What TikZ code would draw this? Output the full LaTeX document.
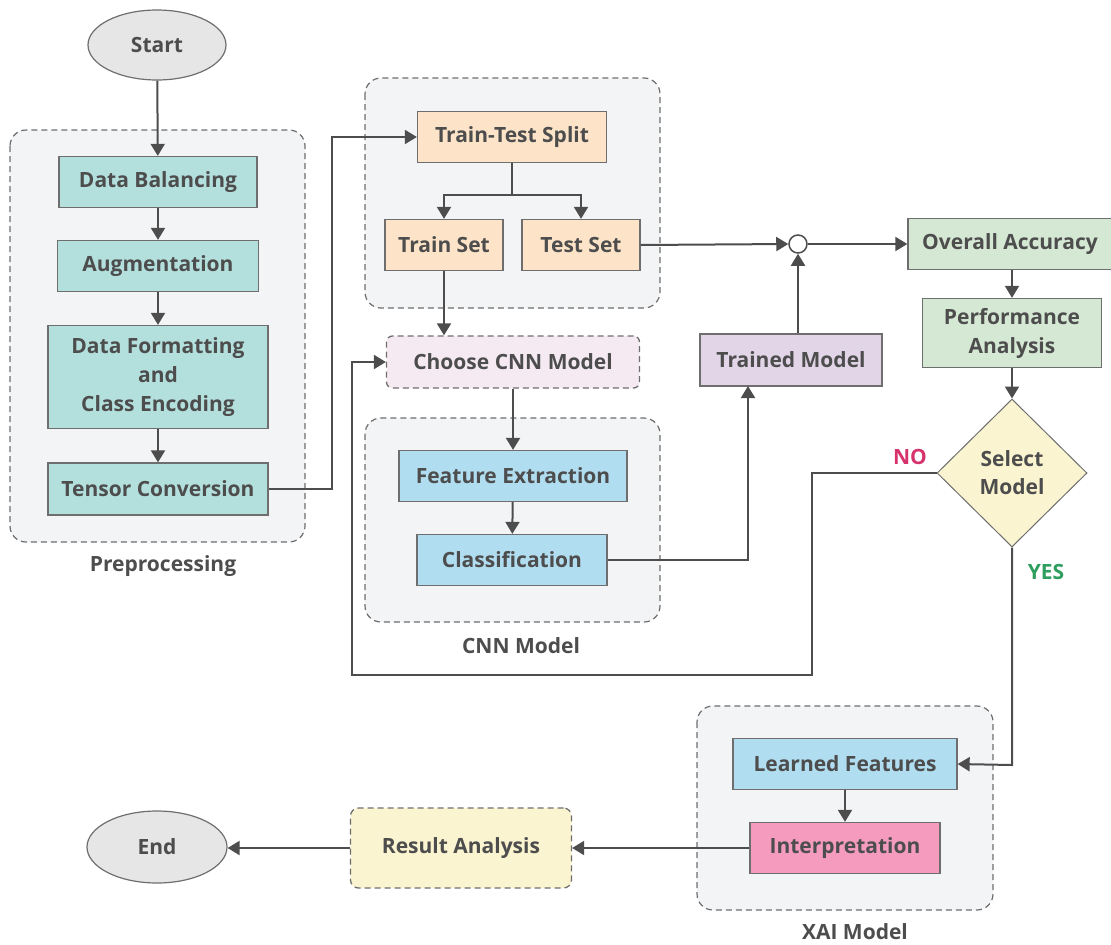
\documentclass[tikz,border=0pt]{standalone}
\usepackage{fontspec}
\setmainfont{Open Sans}
\usetikzlibrary{shapes.geometric,arrows.meta}

\definecolor{ink}{HTML}{4D4D4D}
\definecolor{edge}{HTML}{6E6E6E}
\definecolor{grpfill}{HTML}{F3F4F6}
\definecolor{teal}{HTML}{B3E0DD}
\definecolor{peach}{HTML}{FDE4C8}
\definecolor{skyb}{HTML}{B1DDF0}
\definecolor{mint}{HTML}{D5E8D4}
\definecolor{lilac}{HTML}{E1D5E7}
\definecolor{blush}{HTML}{F5EAF2}
\definecolor{cream}{HTML}{FBF4D1}
\definecolor{rose}{HTML}{F49BBE}
\definecolor{greyfill}{HTML}{E6E6E6}
\definecolor{noclr}{HTML}{D6336C}
\definecolor{yesclr}{HTML}{2E9E5E}

\tikzset{
  x=1pt, y=-1pt,
  txt/.style={font=\fontsize{21}{29}\selectfont\bfseries, text=ink},
  box/.style={txt, draw=edge, line width=1.3pt, rectangle, inner sep=0pt, align=center},
  grp/.style={draw=edge, dash pattern=on 6pt off 4pt, line width=1.2pt, fill=grpfill, rounded corners=16pt},
  grplabel/.style={txt},
  flow/.style={draw=ink, line width=2pt, -{Triangle[length=12pt,width=14pt]}},
  plain/.style={draw=ink, line width=2pt},
  oval/.style={txt, ellipse, draw=edge, line width=1.2pt, fill=greyfill, inner sep=0pt},
}

\begin{document}
\begin{tikzpicture}
\useasboundingbox (0,0) rectangle (1111,945);

% group frames
\draw[grp] (10,130) rectangle (305,542);
\draw[grp] (365,78) rectangle (660,308);
\draw[grp] (365,418) rectangle (660,622);
\draw[grp] (697,706) rectangle (993,910);
\node[grplabel] (lblpre) at (163,566) {Preprocessing};
\node[grplabel] (lblcnn) at (521,646) {CNN Model};
\node[grplabel] (lblxai) at (855,932) {XAI Model};

% terminals
\node[oval, minimum width=138pt, minimum height=70pt] (start) at (157,45) {Start};
\node[oval, minimum width=140pt, minimum height=72pt] (end) at (157,847) {End};

% preprocessing
\node[box, fill=teal, minimum width=198pt, minimum height=51pt] (bal) at (158,182) {Data Balancing};
\node[box, fill=teal, minimum width=201pt, minimum height=51pt] (aug) at (158,266) {Augmentation};
\node[box, fill=teal, minimum width=220pt, minimum height=103pt] (fmt) at (158,377) {Data Formatting\\and\\Class Encoding};
\node[box, fill=teal, minimum width=220pt, minimum height=52pt] (ten) at (158,489) {Tensor Conversion};

% splitting
\node[box, fill=peach, minimum width=189pt, minimum height=51pt] (split) at (512,137) {Train-Test Split};
\node[box, fill=peach, minimum width=118pt, minimum height=51pt] (train) at (444,245) {Train Set};
\node[box, fill=peach, minimum width=118pt, minimum height=51pt] (test) at (581,245) {Test Set};

% model
\node[box, fill=blush, dashed, dash pattern=on 6pt off 4pt, rounded corners=6pt, minimum width=253pt, minimum height=52pt] (choose) at (513,362) {Choose CNN Model};
\node[box, fill=skyb, minimum width=228pt, minimum height=51pt] (feat) at (513,476) {Feature Extraction};
\node[box, fill=skyb, minimum width=190pt, minimum height=51pt] (cls) at (512,560) {Classification};
\node[box, fill=lilac, minimum width=182pt, minimum height=52pt] (trained) at (791,360) {Trained Model};
\node[circle, draw=ink, line width=1.5pt, fill=white, minimum size=18pt, inner sep=0pt] (join) at (798,244) {};

% evaluation
\node[box, fill=mint, minimum width=204pt, minimum height=51pt] (acc) at (1010,244) {Overall Accuracy};
\node[box, fill=mint, minimum width=179pt, minimum height=69pt] (perf) at (1012,333) {Performance\\Analysis};
\node[txt, diamond, draw=edge, line width=1pt, fill=cream, minimum width=150pt, minimum height=148pt, inner sep=0pt, align=center, font=\fontsize{21}{28}\selectfont\bfseries] (sel) at (1012,473) {Select\\Model};
\node[font=\fontsize{21}{28}\selectfont\bfseries, text=noclr] (no) at (910,457) {NO};
\node[font=\fontsize{21}{28}\selectfont\bfseries, text=yesclr] (yes) at (1046,572) {YES};

% explanation
\node[box, fill=skyb, minimum width=224pt, minimum height=51pt] (learn) at (845,764) {Learned Features};
\node[box, fill=rose, minimum width=190pt, minimum height=51pt] (interp) at (845,848) {Interpretation};
\node[box, fill=cream, dashed, dash pattern=on 6pt off 4pt, rounded corners=8pt, minimum width=221pt, minimum height=80pt] (res) at (461,848) {Result Analysis};

% connectors
\coordinate (splitmid) at (512,195);
\draw[flow] (start) -- (bal);
\draw[flow] (bal) -- (aug);
\draw[flow] (aug) -- (fmt);
\draw[flow] (fmt) -- (ten);
\draw[flow] (ten.east) -- (332,489) |- (split.west);
\draw[plain] (split.south) -- (splitmid);
\draw[flow] (splitmid) -| (train.north);
\draw[flow] (splitmid) -| (test.north);
\draw[flow] (train.south) -- (choose.north -| train.south);
\draw[flow] (choose.south -| feat.north) -- (feat.north);
\draw[flow] (feat) -- (cls);
\draw[flow] (cls.east) -| (748,386);
\draw[flow] (test.east) -- (join.west);
\draw[flow] (trained.north -| join.south) -- (join.south);
\draw[flow] (join.east) -- (acc.west);
\draw[flow] (acc.south -| perf.north) -- (perf.north);
\draw[flow] (perf.south) -- (sel.north);
\draw[flow] (sel.west) -- (812,473) -- (812,675) -- (352,675) |- (choose.west);
\draw[flow] (sel.south) -- (1012,765) -- (learn.east);
\draw[flow] (learn) -- (interp);
\draw[flow] (interp.west) -- (res.east);
\draw[flow] (res.west) -- (end.east |- res.west);
\end{tikzpicture}
\end{document}
